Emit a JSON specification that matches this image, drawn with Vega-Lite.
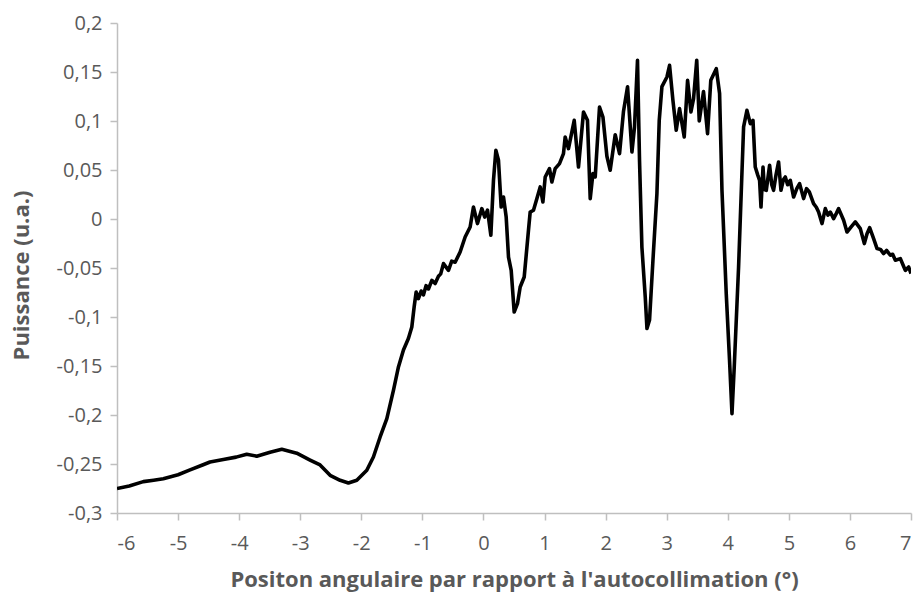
{
  "$schema": "https://vega.github.io/schema/vega-lite/v6.json",
  "width": 794,
  "height": 490,
  "autosize": {"type": "none"},
  "padding": {"left": 117, "top": 23, "right": 6, "bottom": 84},
  "background": "white",
  "config": {
    "view": {"stroke": null},
    "font": "Open Sans",
    "axis": {
      "grid": false,
      "domainColor": "#bfbfbf",
      "domainWidth": 1.5,
      "tickColor": "#bfbfbf",
      "tickWidth": 1.5,
      "tickSize": 7,
      "labelColor": "#595959",
      "labelFont": "Open Sans",
      "labelFontSize": 20,
      "titleColor": "#595959",
      "titleFont": "Open Sans",
      "titleFontSize": 22,
      "titleFontWeight": "bold"
    }
  },
  "data": {
    "values": [
      {"x": -6.0, "y": -0.275},
      {"x": -5.8, "y": -0.2725},
      {"x": -5.569, "y": -0.268},
      {"x": -5.4, "y": -0.2665},
      {"x": -5.242, "y": -0.265},
      {"x": -5.0, "y": -0.261},
      {"x": -4.804, "y": -0.256},
      {"x": -4.6, "y": -0.251},
      {"x": -4.477, "y": -0.248},
      {"x": -4.259, "y": -0.2455},
      {"x": -4.05, "y": -0.243},
      {"x": -3.876, "y": -0.240},
      {"x": -3.712, "y": -0.242},
      {"x": -3.494, "y": -0.238},
      {"x": -3.302, "y": -0.235},
      {"x": -3.057, "y": -0.239},
      {"x": -2.839, "y": -0.246},
      {"x": -2.675, "y": -0.251},
      {"x": -2.511, "y": -0.2615},
      {"x": -2.347, "y": -0.2666},
      {"x": -2.211, "y": -0.2694},
      {"x": -2.074, "y": -0.2666},
      {"x": -1.910, "y": -0.2564},
      {"x": -1.802, "y": -0.2429},
      {"x": -1.692, "y": -0.2224},
      {"x": -1.582, "y": -0.2037},
      {"x": -1.474, "y": -0.1748},
      {"x": -1.392, "y": -0.151},
      {"x": -1.310, "y": -0.1337},
      {"x": -1.229, "y": -0.122},
      {"x": -1.173, "y": -0.1102},
      {"x": -1.135, "y": -0.0898},
      {"x": -1.102, "y": -0.0745},
      {"x": -1.065, "y": -0.0812},
      {"x": -1.02, "y": -0.0735},
      {"x": -0.983, "y": -0.0775},
      {"x": -0.94, "y": -0.068},
      {"x": -0.901, "y": -0.0714},
      {"x": -0.845, "y": -0.0626},
      {"x": -0.791, "y": -0.0659},
      {"x": -0.737, "y": -0.0585},
      {"x": -0.70, "y": -0.056},
      {"x": -0.655, "y": -0.0455},
      {"x": -0.573, "y": -0.0524},
      {"x": -0.52, "y": -0.043},
      {"x": -0.464, "y": -0.0441},
      {"x": -0.382, "y": -0.0337},
      {"x": -0.300, "y": -0.0184},
      {"x": -0.218, "y": -0.0082},
      {"x": -0.164, "y": 0.0122},
      {"x": -0.098, "y": -0.0047},
      {"x": -0.026, "y": 0.0106},
      {"x": 0.02, "y": 0.002},
      {"x": 0.066, "y": 0.0091},
      {"x": 0.121, "y": -0.0166},
      {"x": 0.164, "y": 0.0395},
      {"x": 0.203, "y": 0.0701},
      {"x": 0.246, "y": 0.0599},
      {"x": 0.290, "y": 0.0122},
      {"x": 0.328, "y": 0.0224},
      {"x": 0.372, "y": 0.002},
      {"x": 0.410, "y": -0.0388},
      {"x": 0.454, "y": -0.0524},
      {"x": 0.503, "y": -0.0949},
      {"x": 0.557, "y": -0.0864},
      {"x": 0.601, "y": -0.0694},
      {"x": 0.667, "y": -0.0592},
      {"x": 0.737, "y": -0.0115},
      {"x": 0.765, "y": 0.0071},
      {"x": 0.819, "y": 0.0089},
      {"x": 0.875, "y": 0.0208},
      {"x": 0.929, "y": 0.0327},
      {"x": 0.973, "y": 0.0173},
      {"x": 1.011, "y": 0.0429},
      {"x": 1.081, "y": 0.0514},
      {"x": 1.120, "y": 0.0378},
      {"x": 1.174, "y": 0.0514},
      {"x": 1.245, "y": 0.0565},
      {"x": 1.310, "y": 0.0667},
      {"x": 1.338, "y": 0.0837},
      {"x": 1.392, "y": 0.0718},
      {"x": 1.486, "y": 0.1007},
      {"x": 1.556, "y": 0.0531},
      {"x": 1.638, "y": 0.1092},
      {"x": 1.703, "y": 0.1007},
      {"x": 1.748, "y": 0.0208},
      {"x": 1.792, "y": 0.0463},
      {"x": 1.830, "y": 0.0429},
      {"x": 1.900, "y": 0.1143},
      {"x": 1.956, "y": 0.1041},
      {"x": 2.021, "y": 0.064},
      {"x": 2.075, "y": 0.0497},
      {"x": 2.157, "y": 0.086},
      {"x": 2.228, "y": 0.0667},
      {"x": 2.293, "y": 0.11},
      {"x": 2.359, "y": 0.135},
      {"x": 2.431, "y": 0.0684},
      {"x": 2.473, "y": 0.0939},
      {"x": 2.522, "y": 0.1619},
      {"x": 2.555, "y": 0.06},
      {"x": 2.594, "y": -0.0286},
      {"x": 2.649, "y": -0.0796},
      {"x": 2.677, "y": -0.1118},
      {"x": 2.719, "y": -0.1031},
      {"x": 2.775, "y": -0.0421},
      {"x": 2.840, "y": 0.0259},
      {"x": 2.878, "y": 0.1007},
      {"x": 2.922, "y": 0.135},
      {"x": 3.004, "y": 0.1449},
      {"x": 3.047, "y": 0.1568},
      {"x": 3.102, "y": 0.1211},
      {"x": 3.156, "y": 0.0905},
      {"x": 3.210, "y": 0.1126},
      {"x": 3.287, "y": 0.0837},
      {"x": 3.342, "y": 0.1415},
      {"x": 3.397, "y": 0.1092},
      {"x": 3.440, "y": 0.1228},
      {"x": 3.492, "y": 0.162},
      {"x": 3.533, "y": 0.100},
      {"x": 3.603, "y": 0.130},
      {"x": 3.669, "y": 0.0871},
      {"x": 3.722, "y": 0.1415},
      {"x": 3.812, "y": 0.1534},
      {"x": 3.866, "y": 0.128},
      {"x": 3.905, "y": 0.0293},
      {"x": 3.975, "y": -0.0761},
      {"x": 4.029, "y": -0.1442},
      {"x": 4.069, "y": -0.1986},
      {"x": 4.106, "y": -0.151},
      {"x": 4.177, "y": -0.049},
      {"x": 4.259, "y": 0.0939},
      {"x": 4.314, "y": 0.1109},
      {"x": 4.369, "y": 0.0973},
      {"x": 4.413, "y": 0.1007},
      {"x": 4.450, "y": 0.053},
      {"x": 4.49, "y": 0.045},
      {"x": 4.521, "y": 0.0395},
      {"x": 4.544, "y": 0.0122},
      {"x": 4.577, "y": 0.053},
      {"x": 4.60, "y": 0.030},
      {"x": 4.631, "y": 0.0293},
      {"x": 4.685, "y": 0.0548},
      {"x": 4.72, "y": 0.035},
      {"x": 4.750, "y": 0.0293},
      {"x": 4.79, "y": 0.045},
      {"x": 4.832, "y": 0.0582},
      {"x": 4.871, "y": 0.0293},
      {"x": 4.91, "y": 0.040},
      {"x": 4.942, "y": 0.0429},
      {"x": 4.98, "y": 0.035},
      {"x": 5.024, "y": 0.0395},
      {"x": 5.078, "y": 0.0224},
      {"x": 5.13, "y": 0.031},
      {"x": 5.176, "y": 0.0361},
      {"x": 5.242, "y": 0.0208},
      {"x": 5.29, "y": 0.031},
      {"x": 5.335, "y": 0.0276},
      {"x": 5.405, "y": 0.0157},
      {"x": 5.45, "y": 0.012},
      {"x": 5.487, "y": 0.0071},
      {"x": 5.543, "y": -0.0047},
      {"x": 5.597, "y": 0.0106},
      {"x": 5.64, "y": 0.004},
      {"x": 5.679, "y": 0.0071},
      {"x": 5.733, "y": 0.0004},
      {"x": 5.78, "y": 0.006},
      {"x": 5.815, "y": 0.0106},
      {"x": 5.897, "y": -0.0013},
      {"x": 5.952, "y": -0.0133},
      {"x": 6.02, "y": -0.008},
      {"x": 6.088, "y": -0.003},
      {"x": 6.170, "y": -0.0098},
      {"x": 6.236, "y": -0.0251},
      {"x": 6.28, "y": -0.015},
      {"x": 6.323, "y": -0.0088},
      {"x": 6.388, "y": -0.02},
      {"x": 6.444, "y": -0.0302},
      {"x": 6.50, "y": -0.031},
      {"x": 6.552, "y": -0.0353},
      {"x": 6.60, "y": -0.032},
      {"x": 6.662, "y": -0.037},
      {"x": 6.70, "y": -0.036},
      {"x": 6.744, "y": -0.0421},
      {"x": 6.826, "y": -0.0404},
      {"x": 6.87, "y": -0.047},
      {"x": 6.907, "y": -0.0524},
      {"x": 6.962, "y": -0.049},
      {"x": 7.0, "y": -0.0557}
    ]
  },
  "mark": {"type": "line", "color": "black", "strokeWidth": 3.6, "strokeJoin": "round", "clip": true},
  "encoding": {
    "x": {
      "field": "x",
      "type": "quantitative",
      "scale": {"domain": [-6, 7], "nice": false, "zero": false},
      "axis": {
        "title": "Positon angulaire par rapport à l'autocollimation (°)",
        "values": [-6, -5, -4, -3, -2, -1, 0, 1, 2, 3, 4, 5, 6, 7],
        "labelExpr": "'' + datum.value",
        "labelPadding": 13,
        "titlePadding": 16
      }
    },
    "y": {
      "field": "y",
      "type": "quantitative",
      "scale": {"domain": [-0.3, 0.2], "nice": false, "zero": false},
      "axis": {
        "title": "Puissance (u.a.)",
        "values": [-0.3, -0.25, -0.2, -0.15, -0.1, -0.05, 0, 0.05, 0.1, 0.15, 0.2],
        "labelExpr": "replace('' + datum.value, '.', ',')",
        "labelPadding": 8,
        "titleX": -84,
        "titleY": 252,
        "titleBaseline": "bottom"
      }
    }
  }
}
